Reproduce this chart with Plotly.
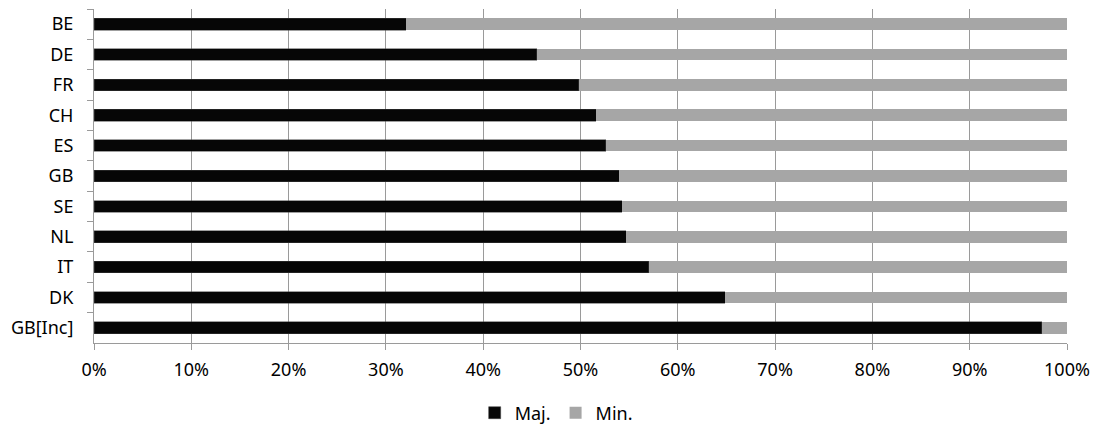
import plotly.graph_objects as go

countries = ["BE", "DE", "FR", "CH", "ES", "GB", "SE", "NL", "IT", "DK", "GB[Inc]"]
maj = [32.1, 45.5, 49.8, 51.6, 52.6, 54.0, 54.3, 54.7, 57.0, 64.9, 97.4]
minr = [round(100 - v, 1) for v in maj]
x_ticks = [0, 10, 20, 30, 40, 50, 60, 70, 80, 90, 100]
x_labels = [f"{t}%" for t in x_ticks]

FONT = "Noto Sans"
FS = 18

fig = go.Figure()
fig.add_trace(go.Bar(y=countries, x=maj, name="Maj.", orientation="h",
                     marker=dict(color="#060606", line=dict(color="#404040", width=0.5))))
fig.add_trace(go.Bar(y=countries, x=minr, name="Min.", orientation="h",
                     marker=dict(color="#A6A6A6", line=dict(width=0))))

fig.update_layout(
    barmode="stack",
    bargap=0.615,
    width=1095, height=433,
    margin=dict(l=94, r=28, t=9, b=90, autoexpand=False),
    plot_bgcolor="white", paper_bgcolor="white",
    font=dict(family=FONT, size=FS, color="#000000"),
    showlegend=True,
    legend=dict(orientation="h", x=0.475, xanchor="center",
                yref="container", y=1 - 413 / 433, yanchor="middle",
                traceorder="normal",
                font=dict(family=FONT, size=FS, color="#000000"),
                itemwidth=30, tracegroupgap=0),
    xaxis=dict(range=[0, 100], tickvals=x_ticks, ticktext=x_labels,
               showgrid=True, gridcolor="#9a9a9a", gridwidth=1,
               showline=True, linecolor="#9a9a9a", linewidth=1,
               ticks="outside", ticklen=6, tickcolor="#9a9a9a",
               zeroline=False, ticklabelstandoff=4, fixedrange=True, automargin=False),
    yaxis=dict(autorange="reversed", type="category",
               showline=True, linecolor="#9a9a9a", linewidth=1,
               ticks="outside", ticklen=6, tickcolor="#9a9a9a",
               tickson="boundaries", showgrid=False,
               ticklabelstandoff=16, fixedrange=True, automargin=False),
)

fig.write_html("out.html", config={"displayModeBar": False, "staticPlot": True},
               post_script="document.body.style.margin='0';document.body.style.overflow='hidden';")
